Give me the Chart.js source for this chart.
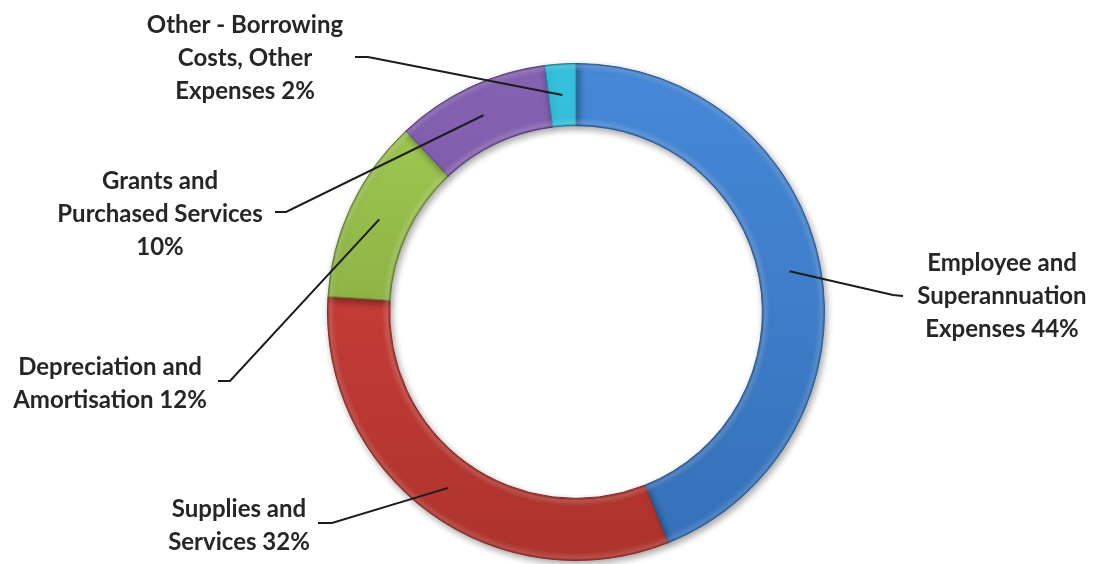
<!DOCTYPE html>
<html>
<head>
<meta charset="utf-8">
<script src="https://cdn.jsdelivr.net/npm/chart.js@4/dist/chart.umd.min.js"></script>
<style>
  html, body { margin: 0; padding: 0; background: #ffffff; }
  #wrap { width: 1099px; height: 564px; position: relative; }
</style>
</head>
<body>
<div id="wrap"><canvas id="chart" width="1099" height="564"></canvas></div>
<script>
// Expense categories and their share of total expenses (%)
const categories = [
  'Employee and Superannuation Expenses',
  'Supplies and Services',
  'Depreciation and Amortisation',
  'Grants and Purchased Services',
  'Other - Borrowing Costs, Other Expenses'
];
const shares = [44, 32, 12, 10, 2];

// Label text split over lines; the percentage is appended to the last line
const labelLines = [
  ['Employee and', 'Superannuation', 'Expenses'],
  ['Supplies and', 'Services'],
  ['Depreciation and', 'Amortisation'],
  ['Grants and', 'Purchased Services', ''],
  ['Other - Borrowing', 'Costs, Other', 'Expenses']
];

// Segment colours: light (top) and dark (bottom) shades
const lightColors = ['#4689d8', '#d9443f', '#a3cd55', '#8762b4', '#36c3e0'];
const darkColors  = ['#3570b8', '#ad332d', '#779935', '#6c4d93', '#2496b2'];
const edgeColors  = ['#2f65a6', '#9a2c27', '#6a8a2e', '#5e4283', '#1f8aa5'];

// Callout placement: text centre, first line centre, and elbow of the leader
const callouts = [
  { x: 1002, y: 263, elbow: [[903, 296], [893, 295]] },
  { x: 239,  y: 509, elbow: [[318, 523], [332, 523]] },
  { x: 110,  y: 367, elbow: [[218, 381], [230, 381]] },
  { x: 160,  y: 181, elbow: [[275, 212], [286, 212]] },
  { x: 245,  y: 25,  elbow: [[355, 57],  [368, 57]] }
];

const gradCache = {};
function segmentFill(context) {
  const chart = context.chart;
  const area = chart.chartArea;
  const i = context.dataIndex;
  if (!area) return lightColors[i];
  const key = i + ':' + area.top + ':' + area.bottom;
  if (!gradCache[key]) {
    const g = chart.ctx.createLinearGradient(0, area.top, 0, area.bottom);
    g.addColorStop(0, lightColors[i]);
    g.addColorStop(1, darkColors[i]);
    gradCache[key] = g;
  }
  return gradCache[key];
}

// Soft drop shadow under the ring
const ringShadow = {
  id: 'ringShadow',
  beforeDatasetsDraw(chart) {
    const ctx = chart.ctx;
    ctx.save();
    ctx.shadowColor = 'rgba(0,0,0,0.35)';
    ctx.shadowBlur = 7;
    ctx.shadowOffsetX = 2;
    ctx.shadowOffsetY = 3;
  },
  afterDatasetsDraw(chart) {
    chart.ctx.restore();
  }
};

// Bevel highlights along the inner and outer rims
const ringBevel = {
  id: 'ringBevel',
  afterDatasetsDraw(chart) {
    const meta = chart.getDatasetMeta(0);
    if (!meta.data.length) return;
    const arc = meta.data[0];
    const { x, y, innerRadius, outerRadius } = arc.getProps(['x', 'y', 'innerRadius', 'outerRadius'], true);
    const ctx = chart.ctx;
    const t = r => Math.max(0, Math.min(1, r / outerRadius));
    const g = ctx.createRadialGradient(x, y, 0, x, y, outerRadius);
    g.addColorStop(t(innerRadius), 'rgba(0,0,0,0.22)');
    g.addColorStop(t(innerRadius + 2.5), 'rgba(255,255,255,0.16)');
    g.addColorStop(t(innerRadius + 8), 'rgba(255,255,255,0)');
    g.addColorStop(t(outerRadius - 8), 'rgba(255,255,255,0)');
    g.addColorStop(t(outerRadius - 2.5), 'rgba(255,255,255,0.14)');
    g.addColorStop(1, 'rgba(0,0,0,0.22)');
    ctx.save();
    ctx.beginPath();
    ctx.arc(x, y, outerRadius, 0, Math.PI * 2);
    ctx.arc(x, y, innerRadius, Math.PI * 2, 0, true);
    ctx.closePath();
    ctx.fillStyle = g;
    ctx.fill();
    ctx.restore();
  }
};

// Callout labels with leader lines into the middle of each segment
const callLabels = {
  id: 'callLabels',
  afterDraw(chart) {
    const ctx = chart.ctx;
    const meta = chart.getDatasetMeta(0);
    ctx.save();
    meta.data.forEach((arc, i) => {
      const p = arc.getProps(['x', 'y', 'startAngle', 'endAngle', 'innerRadius', 'outerRadius'], true);
      const a = (p.startAngle + p.endAngle) / 2;
      const r = (p.innerRadius + p.outerRadius) / 2;
      const ax = p.x + Math.cos(a) * r;
      const ay = p.y + Math.sin(a) * r;
      const c = callouts[i];

      ctx.strokeStyle = '#1c1c1c';
      ctx.lineWidth = 2;
      ctx.beginPath();
      ctx.moveTo(c.elbow[0][0], c.elbow[0][1]);
      ctx.lineTo(c.elbow[1][0], c.elbow[1][1]);
      ctx.lineTo(ax, ay);
      ctx.stroke();

      const lines = labelLines[i].slice();
      const last = lines.length - 1;
      lines[last] = (lines[last] ? lines[last] + ' ' : '') + shares[i] + '%';
      ctx.fillStyle = '#262626';
      ctx.font = 'bold 24px Lato, "Open Sans", sans-serif';
      ctx.textAlign = 'center';
      ctx.textBaseline = 'middle';
      lines.forEach((ln, k) => ctx.fillText(ln, c.x, c.y + k * 33));
    });
    ctx.restore();
  }
};

new Chart(document.getElementById('chart'), {
  type: 'doughnut',
  data: {
    labels: categories,
    datasets: [{
      data: shares,
      backgroundColor: segmentFill,
      borderColor: edgeColors,
      borderWidth: 1,
      hoverOffset: 0
    }]
  },
  options: {
    responsive: false,
    animation: false,
    cutout: '75%',
    rotation: 0,
    circumference: 360,
    layout: { padding: { left: 327, right: 274, top: 63, bottom: 3 } },
    plugins: {
      legend: { display: false },
      tooltip: { enabled: false }
    }
  },
  plugins: [ringShadow, ringBevel, callLabels]
});
</script>
</body>
</html>
